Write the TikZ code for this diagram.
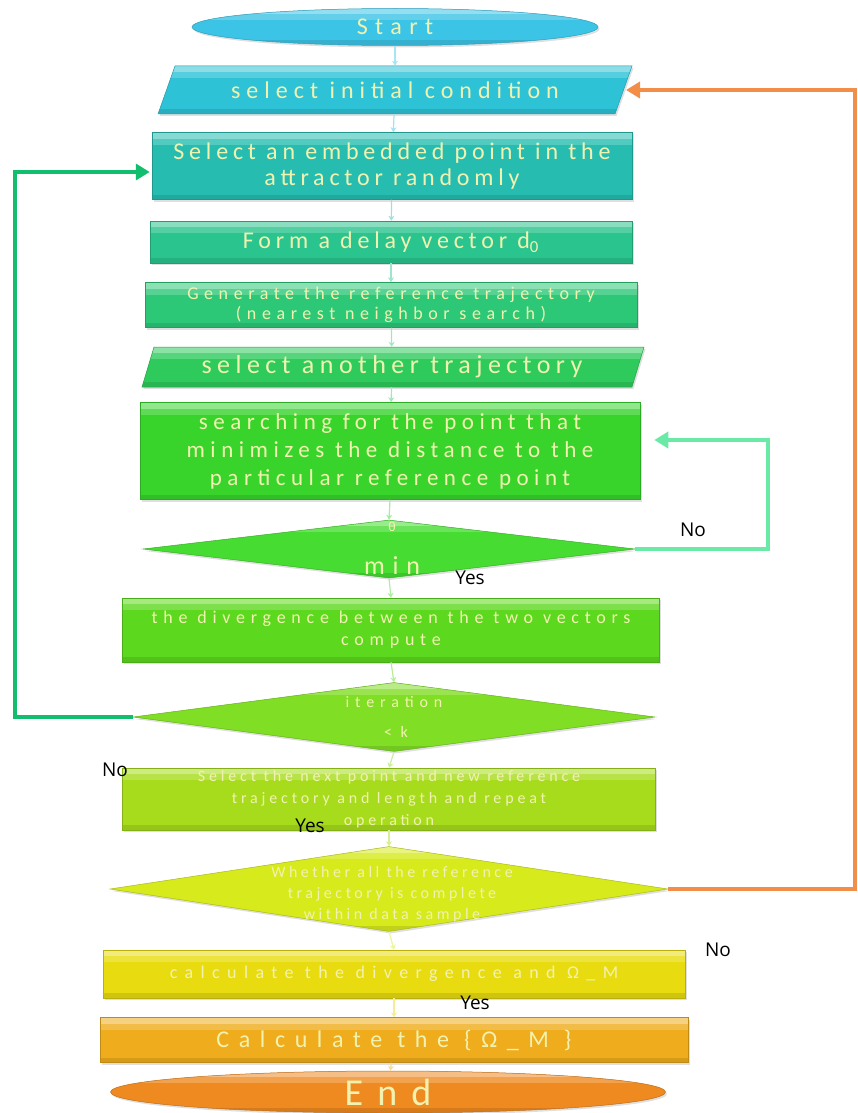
\documentclass[tikz,border=0pt]{standalone}
\usepackage{fontspec}
\setmainfont{Carlito}
\newfontfamily\labfont{Open Sans}
\newcommand\ff[3]{\fontsize{#1}{#2}\selectfont\addfontfeature{LetterSpace=#3}}
\usetikzlibrary{shapes.geometric,arrows.meta,shadows}
\definecolor{c1}{HTML}{3CC4E6}
\definecolor{c2}{HTML}{2EC2D6}
\definecolor{c3}{HTML}{26BDB0}
\definecolor{c4}{HTML}{2AC48E}
\definecolor{c5}{HTML}{2CC878}
\definecolor{c6}{HTML}{2ECB5C}
\definecolor{c7}{HTML}{38D42C}
\definecolor{c8}{HTML}{46DC32}
\definecolor{c9}{HTML}{5CD81E}
\definecolor{c10}{HTML}{80DE24}
\definecolor{c11}{HTML}{A6DC1C}
\definecolor{c12}{HTML}{D6EA1C}
\definecolor{c13}{HTML}{E8DC10}
\definecolor{c14}{HTML}{EFAC1C}
\definecolor{c15}{HTML}{EF8A20}
\definecolor{txtc}{HTML}{F2F2B0}
\definecolor{loopA}{HTML}{6AEAA6}
\definecolor{loopB}{HTML}{10BE6E}
\definecolor{loopC}{HTML}{F28E48}
\tikzset{
  fillc/.style={fill=#1, draw=#1!80!black, line width=0.5pt,
    drop shadow={opacity=0.25, shadow xshift=1.5pt, shadow yshift=-2pt},
    path picture={
      \fill[white, opacity=0.45] (path picture bounding box.north west) rectangle ([yshift=-6pt]path picture bounding box.north east);
      \fill[white, opacity=0.2] ([yshift=-6pt]path picture bounding box.north west) rectangle ([yshift=-12pt]path picture bounding box.north east);
      \fill[black, opacity=0.1] (path picture bounding box.south west) rectangle ([yshift=5pt]path picture bounding box.south east);
    }},
  box/.style={rectangle, fillc=#1, text=txtc, align=center, inner sep=0pt},
  plain/.style={text=txtc, align=center, inner sep=0pt},
  dia/.style={diamond, fillc=#1, inner sep=0pt},
  conn/.style={-{Stealth[length=5pt,width=6pt]}, line width=1.2pt, draw=white!55!#1},
  loop/.style={-{Triangle[length=14pt,width=16pt]}, line width=4.5pt, draw=#1},
  yn/.style={font=\labfont\fontsize{19}{22}\selectfont, text=black, inner sep=0pt},
}
\begin{document}
\begin{tikzpicture}[x=1pt,y=-1pt]
\useasboundingbox (0,0) rectangle (857,1113);

% Start
\node[ellipse, fillc=c1, minimum width=406pt, minimum height=37pt, inner sep=0pt,
  font=\ff{24}{26}{31}, text=txtc] (start) at (395,27) {Start};

% parallelogram 1
\path[fillc=c2] (158,114) -- (615,114) -- (632,66) -- (175,66) -- cycle;
\node[plain, minimum width=440pt, minimum height=48pt, font=\ff{24}{26}{25}] (n2) at (395,90) {select initial condition};
\coordinate (n2r) at (626,90);

\node[box=c3, minimum width=480pt, minimum height=67pt, font=\ff{24}{26}{20}] (n3) at (392,166)
  {Select an embedded point in the\\attractor randomly};
\node[box=c4, minimum width=482pt, minimum height=42pt, font=\ff{24}{26}{20}] (n4) at (391,242)
  {Form a delay vector d\textsubscript{0}};
\node[box=c5, minimum width=492pt, minimum height=45pt, font=\ff{18}{20}{31}] (n5) at (391,305)
  {Generate the reference trajectory\\(nearest neighbor search)};

% parallelogram 2
\path[fillc=c6] (142,387) -- (632,387) -- (644,347) -- (154,347) -- cycle;
\node[plain, minimum width=470pt, minimum height=40pt, font=\ff{26}{28}{21}] (n6) at (392,367) {select another trajectory};

\node[box=c7, minimum width=500pt, minimum height=97pt, font=\ff{23}{28}{24}] (n7) at (390,451)
  {searching for the point that\\minimizes the distance to the\\particular reference point};

\node[dia=c8, minimum width=492pt, minimum height=58pt] (d1) at (389,549) {};
\node[plain, font=\ff{14}{16}{10}] (d1a) at (392,527) {θ};
\node[plain, font=\ff{26}{28}{30}] (d1b) at (392,566) {min};

\node[box=c9, minimum width=537pt, minimum height=64pt, font=\ff{18}{22}{32}] (n8) at (391,630)
  {the divergence between the two vectors\\compute};

\node[dia=c10, minimum width=522pt, minimum height=69pt] (d2) at (394,717) {};
\node[plain, font=\ff{16}{18}{37}] (d2a) at (394,702) {iteration};
\node[plain, font=\ff{16}{18}{30}] (d2b) at (396,732) {< k};

\node[box=c11, minimum width=533pt, minimum height=62pt, font=\ff{16}{22}{24}] (n9) at (389,799)
  {Select the next point and new reference\\trajectory and length and repeat\\operation};

\node[dia=c12, minimum width=558pt, minimum height=85pt] (d3) at (389,889) {};
\node[plain, font=\ff{16}{21}{22}] (d3t) at (392,894)
  {Whether all the reference\\trajectory is complete\\within data sample};

\node[box=c13, minimum width=582pt, minimum height=48pt, font=\ff{18}{20}{41}] (n10) at (394,974)
  {calculate the divergence and Ω\_M};
\node[box=c14, minimum width=588pt, minimum height=45pt, font=\ff{24}{26}{40}] (n11) at (394,1040)
  {Calculate the \{Ω\_M \}};

\node[ellipse, fillc=c15, minimum width=555pt, minimum height=42pt, inner sep=0pt,
  font=\ff{38}{40}{37}, text=txtc] (end) at (388,1092) {End};

% short connectors
\draw[conn=c1] (start) -- (n2);
\draw[conn=c2] (n2) -- (n3);
\draw[conn=c3] (n3) -- (n4);
\draw[conn=c4] (n4) -- (n5);
\draw[conn=c5] (n5) -- (n6);
\draw[conn=c6] (n6) -- (n7);
\draw[conn=c7] (n7.south) -- (d1.north);
\draw[conn=c8] (d1.south) -- (n8.north);
\draw[conn=c9] (n8.south) -- (d2.north);
\draw[conn=c10] (d2.south) -- (n9.north);
\draw[conn=c11] (n9.south) -- (d3.north);
\draw[conn=c12] (d3.south) -- (n10.north);
\draw[conn=c13] (n10) -- (n11);
\draw[conn=c14] (n11) -- (end);

% loops
\coordinate (la) at (768,549);
\draw[loop=loopA] (d1.east) -- (la) |- ([xshift=14pt,yshift=11pt]n7.east);
\coordinate (lb) at (15,717);
\draw[loop=loopB] (d2.west) -- (lb) |- ([xshift=-2pt,yshift=-6pt]n3.west);
\coordinate (lc) at (855,889);
\draw[loop=loopC] (d3.east) -- (lc) |- (n2r);

% labels
\node[yn] (no1) at (693,530) {No};
\node[yn] (yes1) at (470,578) {Yes};
\node[yn] (no2) at (115,770) {No};
\node[yn] (yes2) at (310,826) {Yes};
\node[yn] (no3) at (718,950) {No};
\node[yn] (yes3) at (475,1003) {Yes};
\end{tikzpicture}
\end{document}
